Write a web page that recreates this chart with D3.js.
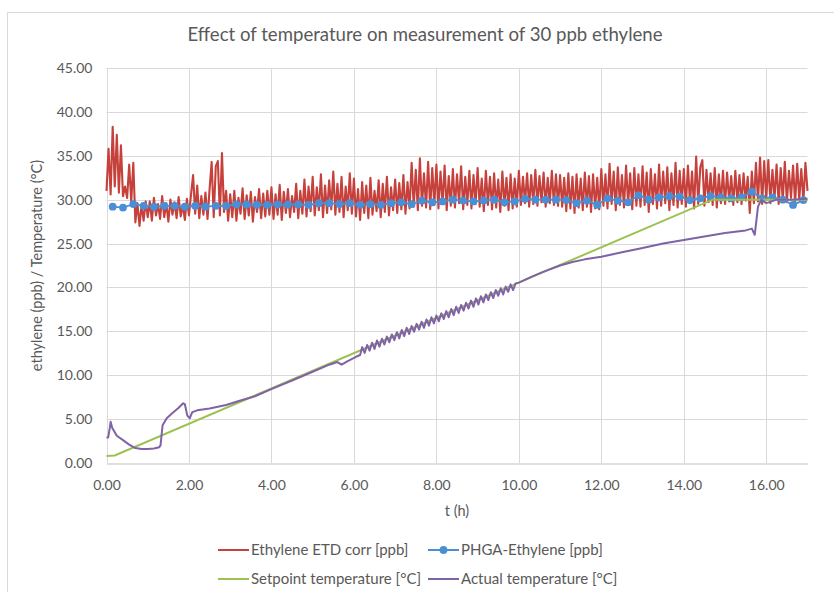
<!DOCTYPE html>
<html>
<head>
<meta charset="utf-8">
<script src="https://cdn.jsdelivr.net/npm/d3@7"></script>
<style>
  body { margin: 0; background: #fff; }
  svg { display: block; font-family: Lato, "Open Sans", sans-serif; }
</style>
</head>
<body>
<div id="chart"></div>
<script>
// Ethylene ETD corr [ppb], sampled every 0.05 h from t = 0 (one row per hour)
var etdStart = 0, etdStep = 0.05;
var etdValues = [
    31.0, 35.8, 30.6, 38.3, 31.5, 37.4, 30.8, 36.2, 30.4, 31.5, 30.2, 34.0, 29.8, 34.2, 27.4, 29.6, 27.0, 29.4, 27.6, 29.8,
    28.0, 29.8, 27.6, 30.2, 28.2, 29.5, 27.8, 30.4, 28.0, 29.6, 27.5, 30.0, 28.3, 29.7, 27.9, 30.3, 28.1, 29.4, 27.7, 30.1,
    28.2, 30.6, 32.8, 28.4, 31.6, 27.9, 30.4, 28.3, 30.8, 27.8, 31.2, 34.3, 28.0, 33.8, 34.4, 28.2, 35.3, 28.6, 31.0, 27.6,
    30.6, 28.0, 31.0, 27.6, 30.2, 28.4, 31.3, 27.8, 30.5, 28.2, 30.9, 27.5, 30.3, 28.6, 31.2, 27.9, 30.7, 28.1, 31.0, 28.3,
    31.4, 27.8, 30.6, 28.3, 31.7, 27.7, 30.9, 28.5, 31.2, 28.0, 30.4, 28.6, 31.8, 27.9, 31.0, 28.4, 32.3, 28.1, 31.5, 28.7,
    32.6, 28.2, 31.4, 28.8, 32.9, 28.0, 31.6, 28.5, 32.2, 28.9, 33.2, 28.3, 31.8, 28.6, 32.6, 28.0, 31.5, 28.8, 33.0, 28.4,
    32.4, 28.1, 31.2, 27.7, 32.0, 28.5, 31.6, 27.9, 32.5, 28.3, 31.0, 28.7, 32.2, 28.0, 31.8, 28.6, 32.6, 28.2, 31.4, 28.8,
    32.3, 28.5, 31.9, 28.9, 32.8, 28.4, 32.0, 29.0, 34.2, 29.2, 33.4, 28.8, 34.7, 29.3, 33.0, 29.1, 34.3, 28.9, 33.6, 29.4,
    34.0, 29.0, 33.2, 29.5, 33.9, 28.8, 32.7, 29.3, 33.5, 29.1, 32.9, 29.6, 33.8, 28.9, 32.6, 29.4, 33.3, 29.0, 32.8, 29.5,
    33.6, 29.2, 32.4, 28.7, 33.3, 29.4, 32.6, 28.9, 33.0, 29.1, 32.3, 28.6, 33.2, 29.3, 32.5, 28.8, 32.9, 29.0, 32.4, 29.2,
    33.3, 29.4, 32.6, 29.6, 33.0, 29.2, 32.8, 29.5, 33.4, 29.3, 32.7, 29.7, 33.1, 29.2, 32.5, 29.6, 33.3, 29.4, 32.9, 29.3,
    32.8, 29.2, 32.5, 28.7, 33.0, 29.0, 32.6, 28.5, 32.9, 29.1, 32.4, 28.8, 33.1, 29.2, 32.7, 28.6, 32.9, 29.0, 32.5, 28.9,
    33.5, 29.3, 32.9, 29.0, 34.1, 29.5, 33.2, 28.8, 33.7, 29.4, 32.8, 29.1, 33.9, 29.5, 33.0, 28.9, 33.6, 29.3, 32.9, 29.2,
    33.8, 29.4, 33.1, 28.6, 33.5, 29.5, 32.9, 29.0, 34.0, 29.3, 33.2, 29.6, 33.7, 28.8, 33.0, 29.4, 34.2, 29.1, 33.3, 29.5,
    33.5, 29.2, 33.9, 29.6, 33.2, 29.0, 34.9, 29.5, 33.7, 34.5, 29.3, 33.4, 29.7, 33.0, 29.4, 33.6, 29.1, 32.9, 29.6, 33.3,
    29.5, 33.1, 29.8, 32.7, 29.4, 33.3, 29.7, 32.8, 29.5, 33.0, 29.9, 32.6, 28.5, 33.2, 29.6, 34.2, 29.8, 34.8, 29.5, 34.4,
    30.0, 34.5, 29.6, 33.4, 30.1, 34.0, 29.5, 33.6, 29.9, 34.3, 29.7, 33.3, 30.2, 33.9, 29.6, 34.1, 30.0, 33.5, 29.8, 34.2,
    31.0
];

// PHGA-Ethylene [ppb], one reading every 0.25 h from t = 0.15
var phgaStart = 0.15, phgaStep = 0.25;
var phgaValues = [
    29.2, 29.1, 29.5, 29.3, 29.2, 29.3, 29.3, 29.2, 29.3, 29.2, 29.3, 29.3, 29.45, 29.45, 29.4, 29.4, 29.45, 29.45, 29.45, 29.4, 29.6,
    29.6, 29.5, 29.6, 29.4, 29.5, 29.4, 29.6, 29.7, 29.5, 29.9, 29.7, 29.8, 30.0, 29.9, 29.8, 29.9, 30.0, 29.7, 29.8, 30.1, 30.0, 30.0, 30.0,
    29.95, 29.6, 29.9, 29.4, 30.15, 29.9, 29.7, 30.5, 30.0, 30.25, 30.4, 30.35, 29.95, 30.15, 30.4, 30.25, 30.15, 30.25, 30.9, 30.15, 30.25, 30.0, 29.4, 29.95
];

// Setpoint temperature [°C] : [t, value]
var setpointTemp = [[0, 0.8], [0.2, 0.85], [14.7, 30.0], [17.0, 30.0]];

// Actual temperature [°C] : [t, value]
var actualTemp = [
    [0, 2.9], [0.04, 2.9], [0.08, 4.0], [0.10, 4.7], [0.14, 4.0], [0.25, 3.1], [0.40, 2.6], [0.55, 2.1],
    [0.70, 1.7], [0.85, 1.6], [1.00, 1.6], [1.15, 1.65], [1.28, 1.8], [1.31, 2.0], [1.36, 4.3], [1.46, 5.1],
    [1.60, 5.7], [1.75, 6.3], [1.86, 6.8], [1.90, 6.7], [1.96, 5.4], [2.02, 5.1], [2.08, 5.8], [2.20, 6.0],
    [2.50, 6.2], [2.90, 6.6], [3.23, 7.1], [3.60, 7.6], [4.04, 8.5], [4.50, 9.4], [5.00, 10.4], [5.40, 11.2],
    [5.60, 11.5], [5.70, 11.2], [5.85, 11.6], [6.05, 12.1], [6.15, 12.3],
    [6.20, 13.2], [6.26, 12.55], [6.32, 13.45], [6.38, 12.8], [6.44, 13.7], [6.50, 13.0], [6.56, 13.95], [6.62, 13.25],
    [6.68, 14.15], [6.74, 13.5], [6.80, 14.4], [6.86, 13.75], [6.92, 14.65], [6.98, 14.0], [7.04, 14.9], [7.10, 14.2],
    [7.16, 15.15], [7.22, 14.45], [7.28, 15.4], [7.34, 14.7], [7.40, 15.6], [7.46, 14.95], [7.52, 15.85], [7.58, 15.2],
    [7.64, 16.1], [7.70, 15.4], [7.76, 16.35], [7.82, 15.65], [7.88, 16.6], [7.94, 15.9], [8.00, 16.8], [8.06, 16.15],
    [8.12, 17.05], [8.18, 16.4], [8.24, 17.3], [8.30, 16.6], [8.36, 17.55], [8.42, 16.85], [8.48, 17.8], [8.54, 17.1],
    [8.60, 18.0], [8.66, 17.35], [8.72, 18.25], [8.78, 17.6], [8.84, 18.5], [8.90, 17.8], [8.96, 18.75], [9.02, 18.05],
    [9.08, 19.0], [9.14, 18.3], [9.20, 19.2], [9.26, 18.55], [9.32, 19.45], [9.38, 18.8], [9.44, 19.7], [9.50, 19.05],
    [9.56, 19.9], [9.62, 19.2], [9.68, 20.1], [9.74, 19.5], [9.80, 20.35], [9.86, 19.7], [9.92, 20.45],
    [10.0, 20.55], [10.3, 21.2], [10.6, 21.8], [11.0, 22.5], [11.3, 22.9], [11.6, 23.2], [12.0, 23.5], [12.5, 24.0],
    [13.0, 24.5], [13.5, 25.0], [14.0, 25.4], [14.5, 25.8], [15.0, 26.2], [15.5, 26.5], [15.65, 26.7], [15.72, 26.0],
    [15.80, 29.2], [15.88, 30.0], [16.0, 29.6], [16.25, 30.0], [16.6, 30.0], [17.0, 30.1]
];

var xTicks = [0, 2, 4, 6, 8, 10, 12, 14, 16];
var yTicks = [0, 5, 10, 15, 20, 25, 30, 35, 40, 45];

var COLORS = {
    etd: '#c6413b',
    phga: '#4a8fd6',
    setpoint: '#9bc250',
    actual: '#7f63a6'
};

var legendItems = [
    { label: 'Ethylene ETD corr [ppb]', color: COLORS.etd, marker: false, col: 0, row: 0 },
    { label: 'PHGA-Ethylene [ppb]', color: COLORS.phga, marker: true, col: 1, row: 0 },
    { label: 'Setpoint temperature [°C]', color: COLORS.setpoint, marker: false, col: 0, row: 1 },
    { label: 'Actual temperature [°C]', color: COLORS.actual, marker: false, col: 1, row: 1 }
];

function renderChart() {
    var width = 834, height = 592;
    var plot = { left: 106.5, right: 807.5, top: 68, bottom: 463 };

    var svg = d3.select('#chart').append('svg')
        .attr('width', width)
        .attr('height', height);

    // chart area frame (only top/left edges fall inside the picture)
    svg.append('path')
        .attr('d', 'M7.5,' + height + 'V12.5H' + width)
        .attr('fill', 'none')
        .attr('stroke', '#d9d9d9');

    var x = d3.scaleLinear().domain([0, 17]).range([plot.left, plot.right]);
    var y = d3.scaleLinear().domain([0, 45]).range([plot.bottom, plot.top]);

    // gridlines
    svg.append('g')
        .selectAll('line')
        .data(yTicks.filter(function(d) { return d > 0; }))
        .enter()
        .append('line')
        .attr('x1', plot.left).attr('x2', plot.right)
        .attr('y1', function(d) { return Math.round(y(d)) + 0.5; })
        .attr('y2', function(d) { return Math.round(y(d)) + 0.5; })
        .attr('stroke', '#d9d9d9');

    svg.append('g')
        .selectAll('line')
        .data(xTicks)
        .enter()
        .append('line')
        .attr('y1', plot.top).attr('y2', plot.bottom)
        .attr('x1', function(d) { return Math.round(x(d)) + 0.5; })
        .attr('x2', function(d) { return Math.round(x(d)) + 0.5; })
        .attr('stroke', '#d9d9d9');

    // axes
    var xAxis = svg.append('g')
        .attr('transform', 'translate(0,' + (Math.round(plot.bottom) + 0.5) + ')')
        .call(d3.axisBottom(x)
            .tickValues(xTicks)
            .tickSize(0)
            .tickSizeOuter(0)
            .tickPadding(17)
            .tickFormat(d3.format('.2f')));
    xAxis.select('.domain').attr('stroke', '#bfbfbf');

    var yAxis = svg.append('g')
        .attr('transform', 'translate(' + plot.left + ',0)')
        .call(d3.axisLeft(y)
            .tickValues(yTicks)
            .tickSize(0)
            .tickPadding(14)
            .tickFormat(d3.format('.2f')));
    yAxis.select('.domain').remove();

    svg.selectAll('.tick text')
        .attr('fill', '#595959')
        .attr('font-size', '14px')
        .attr('font-family', 'Lato, sans-serif');

    // title and axis titles
    svg.append('text')
        .attr('x', 425)
        .attr('y', 41)
        .attr('text-anchor', 'middle')
        .attr('font-size', '18.6px')
        .attr('fill', '#595959')
        .text('Effect of temperature on measurement of 30 ppb ethylene');

    svg.append('text')
        .attr('x', (plot.left + plot.right) / 2)
        .attr('y', 516)
        .attr('text-anchor', 'middle')
        .attr('font-size', '14.5px')
        .attr('fill', '#595959')
        .text('t (h)');

    svg.append('text')
        .attr('transform', 'translate(42,' + ((plot.top + plot.bottom) / 2) + ') rotate(-90)')
        .attr('text-anchor', 'middle')
        .attr('font-size', '14.5px')
        .attr('fill', '#595959')
        .text('ethylene (ppb) / Temperature (°C)');

    // series
    var line = d3.line()
        .x(function(d) { return x(d[0]); })
        .y(function(d) { return y(d[1]); });

    var etdData = etdValues.map(function(v, i) { return [etdStart + i * etdStep, v]; });
    var phgaData = phgaValues.map(function(v, i) { return [phgaStart + i * phgaStep, v]; });

    svg.append('path')
        .datum(etdData)
        .attr('d', line)
        .attr('fill', 'none')
        .attr('stroke', COLORS.etd)
        .attr('stroke-width', 2.1)
        .attr('stroke-linejoin', 'round');

    svg.append('path')
        .datum(phgaData)
        .attr('d', line)
        .attr('fill', 'none')
        .attr('stroke', COLORS.phga)
        .attr('stroke-width', 1.8);

    svg.append('g')
        .selectAll('circle')
        .data(phgaData)
        .enter()
        .append('circle')
        .attr('cx', function(d) { return x(d[0]); })
        .attr('cy', function(d) { return y(d[1]); })
        .attr('r', 3.9)
        .attr('fill', COLORS.phga);

    svg.append('path')
        .datum(setpointTemp)
        .attr('d', line)
        .attr('fill', 'none')
        .attr('stroke', COLORS.setpoint)
        .attr('stroke-width', 2);

    svg.append('path')
        .datum(actualTemp)
        .attr('d', line)
        .attr('fill', 'none')
        .attr('stroke', COLORS.actual)
        .attr('stroke-width', 2)
        .attr('stroke-linejoin', 'round');

    // legend
    var colX = [218, 428], rowY = [550, 579];
    var legend = svg.append('g')
        .selectAll('g')
        .data(legendItems)
        .enter()
        .append('g')
        .attr('transform', function(d) { return 'translate(' + colX[d.col] + ',' + rowY[d.row] + ')'; });

    legend.append('line')
        .attr('x1', 0).attr('x2', 31)
        .attr('stroke', function(d) { return d.color; })
        .attr('stroke-width', 2);

    legend.filter(function(d) { return d.marker; })
        .append('circle')
        .attr('cx', 15.5)
        .attr('r', 3.9)
        .attr('fill', function(d) { return d.color; });

    legend.append('text')
        .attr('x', 33)
        .attr('dy', '0.35em')
        .attr('font-size', '15px')
        .attr('fill', '#595959')
        .text(function(d) { return d.label; });
}

renderChart();
</script>
</body>
</html>
